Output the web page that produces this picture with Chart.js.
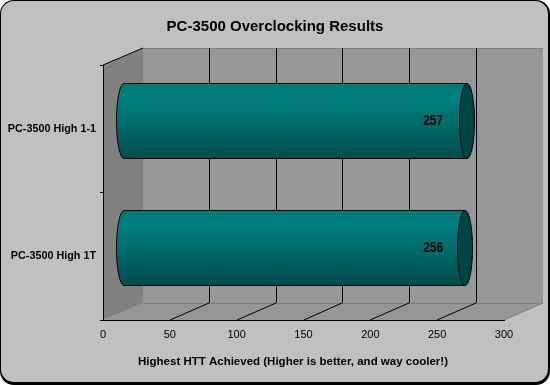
<!DOCTYPE html>
<html>
<head>
<meta charset="utf-8">
<style>
html, body { margin: 0; padding: 0; background: #fff; }
canvas { display: block; }
</style>
<script src="https://cdn.jsdelivr.net/npm/chart.js@4"></script>
</head>
<body>
<canvas id="htt" width="550" height="385"></canvas>
<script>
var categories = ["PC-3500 High 1-1", "PC-3500 High 1T"];
var httValues = [257, 256];
var xTicks = [0, 50, 100, 150, 200, 250, 300];
var chartTitle = "PC-3500 Overclocking Results";
var xTitle = "Highest HTT Achieved (Higher is better, and way cooler!)";

var depthX = 40, depthY = 17;
var wallColor = "#969696", sideColor = "#808080", cardColor = "#c0c0c0";
var font = "'Liberation Sans', Arial, sans-serif";

function poly(ctx, pts, fill) {
    ctx.beginPath();
    pts.forEach(function(p, i) {
        if (i == 0) ctx.moveTo(p[0], p[1]); else ctx.lineTo(p[0], p[1]);
    });
    ctx.closePath();
    ctx.fillStyle = fill;
    ctx.fill();
}

function seg(ctx, x1, y1, x2, y2, color) {
    ctx.beginPath();
    ctx.moveTo(x1, y1);
    ctx.lineTo(x2, y2);
    ctx.strokeStyle = color;
    ctx.lineWidth = 1;
    ctx.stroke();
}

var scenery = {
    id: "scenery",
    beforeDraw: function(chart) {
        var ctx = chart.ctx, a = chart.chartArea, xs = chart.scales.x;
        var l = Math.round(a.left), r = Math.round(a.right), t = Math.round(a.top), b = Math.round(a.bottom);
        ctx.save();
        // card with the heavy right and bottom edge
        ctx.fillStyle = "#000";
        ctx.beginPath();
        ctx.roundRect(0, 0, 550, 385, 14);
        ctx.fill();
        ctx.fillStyle = cardColor;
        ctx.beginPath();
        ctx.roundRect(1, 1, 547, 381, 13);
        ctx.fill();

        // back wall, floor, side wall
        var backR = l + depthX + 400;
        poly(ctx, [[l + depthX, t - depthY], [backR, t - depthY], [backR, b - depthY], [l + depthX, b - depthY]], wallColor);
        poly(ctx, [[l, b], [r, b], [backR, b - depthY], [l + depthX, b - depthY]], wallColor);
        poly(ctx, [[l, t], [l + depthX, t - depthY], [l + depthX, b - depthY], [l, b]], sideColor);
        seg(ctx, l + depthX, t - depthY + 0.5, backR, t - depthY + 0.5, sideColor);
        seg(ctx, l + depthX, b - depthY + 0.5, backR, b - depthY + 0.5, sideColor);
        seg(ctx, r, b, backR, b - depthY, sideColor);

        // grid on the back wall and down across the floor, the back wall is a pixel narrower
        xTicks.forEach(function(v) {
            var x = xs.getPixelForValue(v);
            var bx = Math.floor(l + depthX + (x - l) * 400 / 401 - 0.3);
            if (v > 0 && v < 300) {
                seg(ctx, bx + 0.5, t - depthY, bx + 0.5, b - depthY, "#000");
                seg(ctx, Math.round(x), b, bx, b - depthY, "#000");
            }
        });
        seg(ctx, l, t, l + depthX, t - depthY, "#000");
        ctx.restore();
    },
    beforeDatasetDraw: function() {
        return false;
    },
    afterDatasetsDraw: function(chart) {
        var ctx = chart.ctx, meta = chart.getDatasetMeta(0), xs = chart.scales.x;
        ctx.save();
        meta.data.forEach(function(el, i) {
            var x0 = Math.round(el.base + depthX / 2);
            var x1 = Math.round(el.x + depthX / 2);
            var top = Math.round(el.y - el.height / 2 - depthY / 2) + 0.5;
            var bot = Math.round(el.y + el.height / 2 - depthY / 2) + 0.5;
            var mid = (top + bot) / 2, ry = (bot - top) / 2, rx = 7.5;

            var g = ctx.createLinearGradient(0, top, 0, bot);
            g.addColorStop(0, "#007a78");
            g.addColorStop(0.2, "#008080");
            g.addColorStop(1, "#004c4c");
            ctx.beginPath();
            ctx.moveTo(x1, top);
            ctx.lineTo(x0, top);
            ctx.ellipse(x0, mid, rx, ry, 0, -Math.PI / 2, -Math.PI * 1.5, true);
            ctx.lineTo(x1, bot);
            ctx.closePath();
            ctx.fillStyle = g;
            ctx.fill();
            ctx.strokeStyle = "#000";
            ctx.lineWidth = 1;
            ctx.stroke();

            ctx.beginPath();
            ctx.ellipse(x1, mid, rx, ry, 0, 0, Math.PI * 2);
            ctx.fillStyle = "#004545";
            ctx.fill();
            ctx.stroke();

            // value text is squeezed sideways in the reference
            ctx.save();
            ctx.translate(xs.getPixelForValue(250) - 4, mid);
            ctx.scale(0.85, 1);
            ctx.fillStyle = "#000";
            ctx.font = "bold 14px " + font;
            ctx.textAlign = "center";
            ctx.textBaseline = "middle";
            ctx.fillText(String(httValues[i]), 0, 0);
            ctx.restore();
        });
        ctx.font = "bold 11.5px " + font;
        ctx.textAlign = "center";
        ctx.textBaseline = "middle";
        ctx.fillStyle = "#000";
        ctx.fillText(xTitle, 293, 361.5);
        ctx.restore();
    }
};

new Chart(document.getElementById("htt"), {
    type: "bar",
    data: {
        labels: categories,
        datasets: [{
            label: "Highest HTT",
            data: httValues,
            backgroundColor: "#008080",
            borderColor: "#000",
            barPercentage: 1,
            categoryPercentage: 0.588
        }]
    },
    options: {
        indexAxis: "y",
        responsive: false,
        animation: false,
        plugins: {
            legend: { display: false },
            tooltip: { enabled: false },
            title: {
                display: true,
                text: chartTitle,
                color: "#000",
                font: { family: font, size: 15, weight: "bold", lineHeight: 1.2 },
                padding: { top: 18, bottom: 29 }
            }
        },
        scales: {
            x: {
                min: 0,
                max: 300,
                afterBuildTicks: function(axis) {
                    axis.ticks = xTicks.map(function(v) { return { value: v }; });
                },
                afterFit: function(axis) { axis.height = 65; },
                grid: { drawOnChartArea: false, drawTicks: false },
                border: { display: true, color: "#000" },
                ticks: { color: "#000", padding: 8, maxRotation: 0, font: { family: font, size: 11 } }
            },
            y: {
                afterFit: function(axis) { axis.width = 103; },
                grid: { drawOnChartArea: false, tickLength: 3, tickColor: "#000" },
                border: { display: true, color: "#000" },
                ticks: { color: "#000", padding: 4, font: { family: font, size: 10.8, weight: "bold" } }
            },
            // empty axis, only keeps the margin right of the plot while the title stays centred
            spacer: {
                type: "linear",
                position: "right",
                afterFit: function(axis) { axis.width = 46; },
                grid: { display: false },
                border: { display: false },
                ticks: { display: false }
            }
        }
    },
    plugins: [scenery]
});
</script>
</body>
</html>
